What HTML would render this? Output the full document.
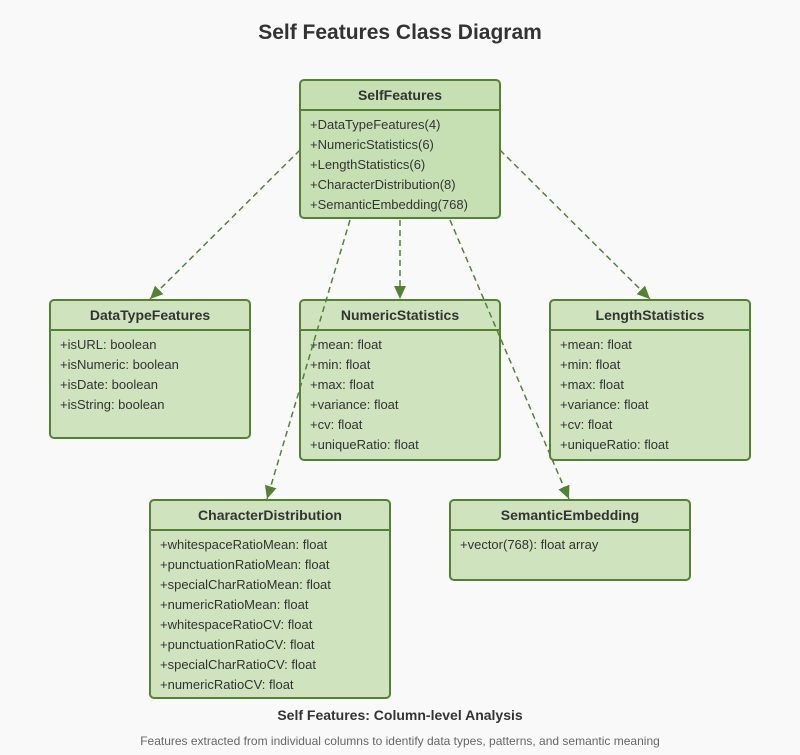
<!DOCTYPE html>
<html><head><meta charset="utf-8"><style>
body{margin:0;background:#f9f9f9;}
svg text{font-family:"Liberation Sans",sans-serif;}
</style></head><body>
<svg width="800" height="750" viewBox="0 0 800 750" xmlns="http://www.w3.org/2000/svg">
<defs><marker id="a" markerWidth="16" markerHeight="16" refX="13" refY="6" orient="auto" markerUnits="userSpaceOnUse"><path d="M0,0 L13,6 L0,12 z" fill="#548235"/></marker></defs>
<rect width="800" height="750" fill="#f9f9f9"/>
<text x="400" y="39" text-anchor="middle" font-size="21" font-weight="bold" fill="#333">Self Features Class Diagram</text>
<g stroke="#548235" stroke-width="2">
<rect x="300" y="80" width="200" height="138" rx="4" fill="#c6e0b4"/><line x1="300" y1="110" x2="500" y2="110"/>
<rect x="50" y="300" width="200" height="138" rx="4" fill="#cfe3be"/><line x1="50" y1="330" x2="250" y2="330"/>
<rect x="300" y="300" width="200" height="160" rx="4" fill="#cfe3be"/><line x1="300" y1="330" x2="500" y2="330"/>
<rect x="550" y="300" width="200" height="160" rx="4" fill="#cfe3be"/><line x1="550" y1="330" x2="750" y2="330"/>
<rect x="150" y="500" width="240" height="198" rx="4" fill="#cfe3be"/><line x1="150" y1="530" x2="390" y2="530"/>
<rect x="450" y="500" width="240" height="80" rx="4" fill="#cfe3be"/><line x1="450" y1="530" x2="690" y2="530"/>
</g>
<g font-size="14" font-weight="bold" fill="#333" text-anchor="middle">
<text x="400" y="100">SelfFeatures</text>
<text x="150" y="320">DataTypeFeatures</text>
<text x="400" y="320">NumericStatistics</text>
<text x="650" y="320">LengthStatistics</text>
<text x="270" y="520">CharacterDistribution</text>
<text x="570" y="520">SemanticEmbedding</text>
</g>
<g font-size="13" fill="#333">
<text x="310" y="129">+DataTypeFeatures(4)</text><text x="310" y="149">+NumericStatistics(6)</text><text x="310" y="169">+LengthStatistics(6)</text><text x="310" y="189">+CharacterDistribution(8)</text><text x="310" y="209">+SemanticEmbedding(768)</text>
<text x="60" y="349">+isURL: boolean</text><text x="60" y="369">+isNumeric: boolean</text><text x="60" y="389">+isDate: boolean</text><text x="60" y="409">+isString: boolean</text>
<text x="310" y="349">+mean: float</text><text x="310" y="369">+min: float</text><text x="310" y="389">+max: float</text><text x="310" y="409">+variance: float</text><text x="310" y="429">+cv: float</text><text x="310" y="449">+uniqueRatio: float</text>
<text x="560" y="349">+mean: float</text><text x="560" y="369">+min: float</text><text x="560" y="389">+max: float</text><text x="560" y="409">+variance: float</text><text x="560" y="429">+cv: float</text><text x="560" y="449">+uniqueRatio: float</text>
<text x="160" y="549">+whitespaceRatioMean: float</text><text x="160" y="569">+punctuationRatioMean: float</text><text x="160" y="589">+specialCharRatioMean: float</text><text x="160" y="609">+numericRatioMean: float</text><text x="160" y="629">+whitespaceRatioCV: float</text><text x="160" y="649">+punctuationRatioCV: float</text><text x="160" y="669">+specialCharRatioCV: float</text><text x="160" y="689">+numericRatioCV: float</text>
<text x="460" y="549">+vector(768): float array</text>
</g>
<g stroke="#548235" stroke-width="1.5" stroke-dasharray="6,4" fill="none" marker-end="url(#a)">
<line x1="300" y1="150" x2="150" y2="299"/>
<line x1="400" y1="220" x2="400" y2="299"/>
<line x1="500" y1="150" x2="650" y2="299"/>
<line x1="350" y1="220" x2="267" y2="499"/>
<line x1="450" y1="220" x2="569" y2="499"/>
</g>
<text x="400" y="720" text-anchor="middle" font-size="14" font-weight="bold" fill="#333">Self Features: Column-level Analysis</text>
<text x="400" y="745" text-anchor="middle" font-size="12" fill="#666">Features extracted from individual columns to identify data types, patterns, and semantic meaning</text>
</svg>
</body></html>
